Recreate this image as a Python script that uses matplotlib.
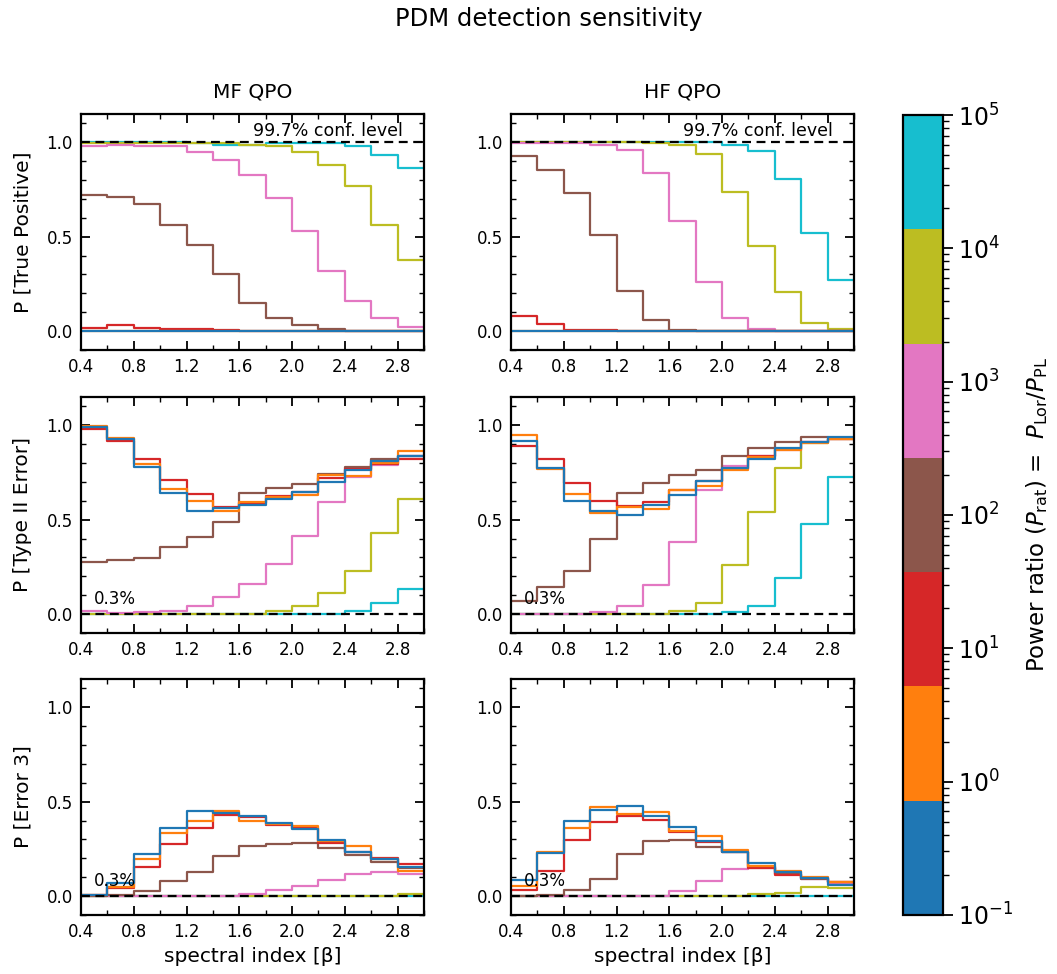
import numpy as np
import matplotlib
matplotlib.use("Agg")
import matplotlib.pyplot as plt
from matplotlib.colors import ListedColormap, LogNorm
from matplotlib.cm import ScalarMappable
from matplotlib.ticker import MultipleLocator, NullFormatter, FixedLocator, LogFormatterSciNotation

# spectral index bin edges (left edges 0.4..2.8, last bin ends at 3.0)
beta = [0.4, 0.6, 0.8, 1.0, 1.2, 1.4, 1.6, 1.8, 2.0, 2.2, 2.4, 2.6, 2.8]
beta_end = 3.0

ratio_labels = ["1e-1", "1e0", "1e1", "1e2", "1e3", "1e4", "1e5"]
colors = ["#1f77b4", "#ff7f0e", "#d62728", "#8c564b", "#e377c2", "#bcbd22", "#17becf"]

# ---- MF QPO : P[True Positive] ----
mf_tp_blue   = [0, 0, 0, 0, 0, 0, 0, 0, 0, 0, 0, 0, 0]
mf_tp_orange = [0.002, 0.002, 0.002, 0.001, 0.001, 0, 0, 0, 0, 0, 0, 0, 0]
mf_tp_red    = [0.018, 0.03, 0.018, 0.012, 0.009, 0.005, 0, 0, 0, 0, 0, 0, 0]
mf_tp_brown  = [0.723, 0.709, 0.671, 0.561, 0.456, 0.300, 0.149, 0.069, 0.034, 0.012, 0, 0, 0]
mf_tp_pink   = [0.982, 0.984, 0.980, 0.980, 0.947, 0.906, 0.828, 0.703, 0.528, 0.321, 0.160, 0.067, 0.023]
mf_tp_olive  = [0.998, 0.998, 0.998, 0.998, 0.998, 0.995, 0.985, 0.978, 0.950, 0.880, 0.770, 0.560, 0.375]
mf_tp_cyan   = [1.0, 1.0, 1.0, 1.0, 0.995, 0.988, 0.988, 0.995, 0.995, 0.995, 0.982, 0.934, 0.863]

# ---- HF QPO : P[True Positive] ----
hf_tp_blue   = [0, 0, 0, 0, 0, 0, 0, 0, 0, 0, 0, 0, 0]
hf_tp_orange = [0.002, 0.001, 0, 0, 0, 0, 0, 0, 0, 0, 0, 0, 0]
hf_tp_red    = [0.080, 0.036, 0.007, 0.005, 0, 0, 0, 0, 0, 0, 0, 0, 0]
hf_tp_brown  = [0.927, 0.854, 0.732, 0.508, 0.210, 0.059, 0.008, 0, 0, 0, 0, 0, 0]
hf_tp_pink   = [0.999, 0.998, 0.998, 0.988, 0.959, 0.840, 0.584, 0.261, 0.069, 0.012, 0, 0, 0]
hf_tp_olive  = [1.0, 1.0, 1.0, 1.0, 1.0, 0.999, 0.988, 0.938, 0.737, 0.453, 0.206, 0.041, 0.012]
hf_tp_cyan   = [1.0, 1.0, 1.0, 1.0, 1.0, 1.0, 1.0, 1.0, 0.988, 0.956, 0.808, 0.520, 0.270]

# ---- MF QPO : P[Type II Error] ----
mf_t2_blue   = [0.990, 0.929, 0.778, 0.639, 0.544, 0.560, 0.577, 0.609, 0.646, 0.701, 0.763, 0.811, 0.840]
mf_t2_orange = [0.995, 0.932, 0.797, 0.664, 0.600, 0.544, 0.596, 0.619, 0.632, 0.735, 0.730, 0.800, 0.865]
mf_t2_red    = [0.982, 0.918, 0.824, 0.710, 0.635, 0.569, 0.587, 0.623, 0.649, 0.720, 0.769, 0.797, 0.824]
mf_t2_brown  = [0.276, 0.285, 0.297, 0.354, 0.409, 0.486, 0.640, 0.670, 0.690, 0.740, 0.780, 0.820, 0.840]
mf_t2_pink   = [0.014, 0.007, 0.011, 0.018, 0.041, 0.089, 0.157, 0.265, 0.413, 0.593, 0.724, 0.790, 0.840]
mf_t2_olive  = [0.001, 0.001, 0.001, 0.001, 0.001, 0.001, 0.003, 0.014, 0.043, 0.110, 0.228, 0.432, 0.612]
mf_t2_cyan   = [0, 0, 0, 0, 0, 0, 0, 0, 0, 0, 0.018, 0.057, 0.132]

# ---- HF QPO : P[Type II Error] ----
hf_t2_blue   = [0.915, 0.774, 0.601, 0.546, 0.525, 0.577, 0.633, 0.703, 0.772, 0.824, 0.879, 0.911, 0.940]
hf_t2_orange = [0.948, 0.769, 0.637, 0.537, 0.568, 0.557, 0.658, 0.680, 0.762, 0.833, 0.868, 0.907, 0.930]
hf_t2_red    = [0.890, 0.824, 0.694, 0.601, 0.575, 0.594, 0.657, 0.703, 0.769, 0.836, 0.877, 0.913, 0.930]
hf_t2_brown  = [0.068, 0.142, 0.230, 0.399, 0.644, 0.694, 0.737, 0.765, 0.836, 0.880, 0.913, 0.940, 0.934]
hf_t2_pink   = [0.001, 0.001, 0.001, 0.012, 0.041, 0.155, 0.381, 0.657, 0.786, 0.836, 0.870, 0.910, 0.930]
hf_t2_olive  = [0, 0, 0, 0, 0, 0, 0.014, 0.060, 0.258, 0.539, 0.774, 0.907, 0.930]
hf_t2_cyan   = [0, 0, 0, 0, 0, 0, 0, 0, 0.009, 0.041, 0.190, 0.479, 0.728]

# ---- MF QPO : P[Error 3] ----
mf_e3_blue   = [0.005, 0.067, 0.222, 0.362, 0.453, 0.439, 0.423, 0.389, 0.353, 0.298, 0.234, 0.195, 0.156]
mf_e3_orange = [0.005, 0.050, 0.199, 0.336, 0.398, 0.449, 0.400, 0.382, 0.369, 0.290, 0.266, 0.199, 0.135]
mf_e3_red    = [0.005, 0.044, 0.155, 0.275, 0.360, 0.432, 0.421, 0.378, 0.360, 0.284, 0.233, 0.204, 0.172]
mf_e3_brown  = [0.003, 0.005, 0.027, 0.082, 0.130, 0.210, 0.268, 0.274, 0.282, 0.254, 0.218, 0.183, 0.147]
mf_e3_pink   = [0.002, 0.002, 0.002, 0.002, 0.002, 0.002, 0.009, 0.030, 0.053, 0.083, 0.115, 0.128, 0.117]
mf_e3_olive  = [0, 0, 0, 0, 0, 0, 0, 0.003, 0.003, 0.003, 0.003, 0.003, 0.010]
mf_e3_cyan   = [0, 0, 0, 0, 0, 0, 0, 0, 0, 0, 0, 0, 0.003]

# ---- HF QPO : P[Error 3] ----
hf_e3_blue   = [0.083, 0.227, 0.396, 0.458, 0.476, 0.423, 0.364, 0.293, 0.234, 0.178, 0.128, 0.098, 0.059]
hf_e3_orange = [0.052, 0.234, 0.360, 0.472, 0.435, 0.444, 0.346, 0.316, 0.242, 0.162, 0.131, 0.101, 0.076]
hf_e3_red    = [0.032, 0.135, 0.295, 0.391, 0.423, 0.403, 0.341, 0.286, 0.236, 0.151, 0.114, 0.094, 0.075]
hf_e3_brown  = [0.003, 0.005, 0.030, 0.089, 0.222, 0.291, 0.297, 0.258, 0.236, 0.156, 0.117, 0.092, 0.076]
hf_e3_pink   = [0.002, 0.002, 0.002, 0.002, 0.002, 0.002, 0.028, 0.082, 0.142, 0.147, 0.115, 0.089, 0.071]
hf_e3_olive  = [0, 0, 0, 0, 0, 0, 0, 0, 0, 0.009, 0.018, 0.046, 0.043]
hf_e3_cyan   = [0, 0, 0, 0, 0, 0, 0, 0, 0, 0, 0, 0, 0]

panels = [
    [[mf_tp_blue, mf_tp_orange, mf_tp_red, mf_tp_brown, mf_tp_pink, mf_tp_olive, mf_tp_cyan],
     [hf_tp_blue, hf_tp_orange, hf_tp_red, hf_tp_brown, hf_tp_pink, hf_tp_olive, hf_tp_cyan]],
    [[mf_t2_blue, mf_t2_orange, mf_t2_red, mf_t2_brown, mf_t2_pink, mf_t2_olive, mf_t2_cyan],
     [hf_t2_blue, hf_t2_orange, hf_t2_red, hf_t2_brown, hf_t2_pink, hf_t2_olive, hf_t2_cyan]],
    [[mf_e3_blue, mf_e3_orange, mf_e3_red, mf_e3_brown, mf_e3_pink, mf_e3_olive, mf_e3_cyan],
     [hf_e3_blue, hf_e3_orange, hf_e3_red, hf_e3_brown, hf_e3_pink, hf_e3_olive, hf_e3_cyan]],
]
row_labels = ["P [True Positive]", "P [Type II Error]", "P [Error 3]"]
col_titles = ["MF QPO", "HF QPO"]
ref_levels = [1.0, 0.0, 0.0]
ref_texts = ["99.7% conf. level", "0.3%", "0.3%"]

W, H = 1057, 974
fig = plt.figure(figsize=(W / 100, H / 100), dpi=100)

col_x = [81, 511]
ax_w = 343
row_top = [114, 397, 679]
ax_h = 236

xe = np.append(beta, beta_end)
xt = np.arange(0.4, 2.81, 0.4)

for r in range(3):
    for c in range(2):
        ax = fig.add_axes([col_x[c] / W, 1 - (row_top[r] + ax_h) / H, ax_w / W, ax_h / H])
        series = panels[r][c]
        for i in range(6, -1, -1):
            vals = np.append(series[i], series[i][-1])
            ax.step(xe, vals, where="post", color=colors[i], lw=1.6)
        ax.axhline(ref_levels[r], color="k", ls="--", lw=1.6, dashes=(4, 2.5))
        if r == 0:
            ax.text(2.84, 1.012, ref_texts[r], ha="right", va="bottom", fontsize=12.5)
        else:
            ax.text(0.5, 0.03, ref_texts[r], ha="left", va="bottom", fontsize=12)
        ax.set_xlim(0.4, 3.0)
        ax.set_ylim(-0.1, 1.15)
        ax.xaxis.set_minor_locator(MultipleLocator(0.2))
        ax.yaxis.set_major_locator(MultipleLocator(0.5))
        ax.yaxis.set_minor_locator(MultipleLocator(0.1))
        ax.set_xticks(xt)
        ax.set_xticklabels([f"{v:.1f}" for v in xt])
        ax.tick_params(which="both", direction="in", top=True, right=True, labelsize=12)
        ax.tick_params(which="major", length=6.5, width=1.3, pad=6)
        ax.tick_params(which="minor", length=3.5, width=1.0)
        for s in ax.spines.values():
            s.set_linewidth(1.6)
        if c == 0:
            ax.set_ylabel(row_labels[r], fontsize=14.5, labelpad=10)
        if r == 0:
            ax.set_title(col_titles[c], fontsize=14.5, pad=12)
        if r == 2:
            ax.set_xlabel("spectral index [β]", fontsize=14.5, labelpad=4)

fig.suptitle("PDM detection sensitivity", fontsize=17.5, x=549 / W, y=1 - 7 / H, va="top")

cax = fig.add_axes([903 / W, 1 - 915 / H, 40 / W, 800 / H])
cmap = ListedColormap(colors)
decades = [float(v) for v in ratio_labels]
norm = LogNorm(vmin=decades[0], vmax=decades[-1])
sm = ScalarMappable(norm=norm, cmap=cmap)
cb = fig.colorbar(sm, cax=cax)
cb.outline.set_linewidth(1.6)
minor_vals = [m * d for d in decades[:-1] for m in range(2, 10)]
cb.ax.yaxis.set_major_locator(FixedLocator(decades))
cb.ax.yaxis.set_major_formatter(LogFormatterSciNotation())
cb.ax.yaxis.set_minor_locator(FixedLocator(minor_vals))
cb.ax.yaxis.set_minor_formatter(NullFormatter())
cb.ax.tick_params(which="major", labelsize=17, length=7.5, width=1.3)
cb.ax.tick_params(which="minor", length=4, width=1.0)
cb.set_label(r"Power ratio ($P_{\rm rat}$) =  $P_{\rm Lor}/P_{\rm PL}$", fontsize=16.5, labelpad=8)

fig.savefig("out.png", dpi=100)
